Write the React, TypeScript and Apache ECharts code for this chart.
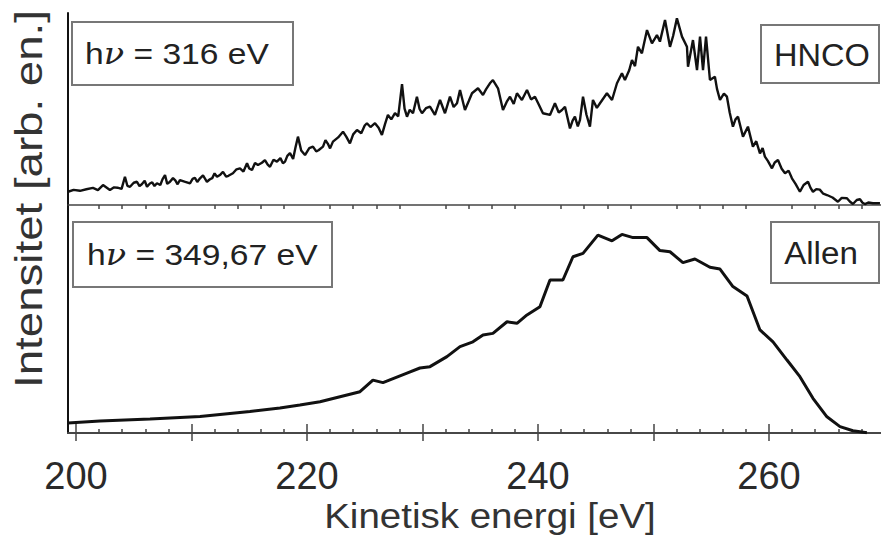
import React, { useEffect, useRef } from "react";
import * as echarts from "echarts";

// HNCO spectrum (hν = 316 eV): [kinetic energy eV, intensity arb. units]
const hncoSpectrum: [number, number][] = [
  [199.31, 6.9], [199.8, 7.9], [200.35, 7.4], [200.9, 8.2], [201.47, 8.9], [201.9, 7.8], [202.34, 10.4],
  [202.94, 7.8], [203.3, 9.2], [203.6, 9.0], [203.95, 8.4], [204.24, 14.7], [204.45, 10.0], [204.68, 9.5],
  [205.0, 11.6], [205.28, 12.1], [205.5, 9.8], [205.7, 10.8], [205.95, 12.6], [206.15, 9.5], [206.4, 11.2],
  [206.6, 11.8], [206.8, 9.9], [207.01, 11.3], [207.3, 10.4], [207.5, 13.5], [207.71, 15.6], [207.9, 11.0],
  [208.14, 12.1], [208.4, 14.0], [208.6, 12.8], [208.8, 10.8], [209.0, 13.0], [209.4, 12.2], [209.87, 11.3],
  [210.1, 13.6], [210.3, 14.2], [210.5, 12.0], [210.74, 13.9], [211.0, 15.4], [211.34, 12.1], [211.6, 13.4],
  [211.8, 14.0], [212.0, 16.5], [212.21, 14.7], [212.5, 15.8], [212.73, 17.3], [213.0, 14.8], [213.2, 15.2],
  [213.59, 16.5], [213.9, 18.6], [214.2, 19.1], [214.5, 17.4], [214.81, 21.7], [215.0, 19.0], [215.24, 18.2],
  [215.5, 21.9], [215.76, 20.8], [216.1, 22.0], [216.36, 23.4], [216.6, 21.0], [216.8, 19.9], [217.1, 23.6],
  [217.4, 22.6], [217.7, 24.4], [217.92, 21.7], [218.1, 22.6], [218.3, 25.6], [218.53, 27.1], [218.8, 24.0],
  [219.0, 29.8], [219.22, 35.6], [219.5, 28.4], [219.83, 26.0], [220.2, 29.6], [220.52, 30.4], [220.8, 27.9],
  [221.0, 28.5], [221.39, 30.4], [221.6, 33.8], [221.8, 32.0], [222.0, 29.5], [222.25, 33.0], [222.7, 35.2],
  [223.12, 38.2], [223.4, 35.6], [223.72, 32.1], [224.0, 36.8], [224.33, 39.1], [224.7, 37.4], [225.0, 41.4],
  [225.19, 42.6], [225.5, 40.6], [225.89, 42.6], [226.2, 40.2], [226.49, 36.5], [226.75, 42.0], [227.01, 46.9],
  [227.3, 44.6], [227.62, 47.8], [227.9, 46.2], [228.23, 63.0], [228.45, 50.2], [228.66, 46.0], [228.9, 49.6],
  [229.18, 47.8], [229.52, 56.4], [229.75, 50.0], [229.96, 47.8], [230.3, 50.4], [230.65, 51.2], [231.08, 46.9],
  [231.52, 54.7], [231.95, 47.8], [232.38, 56.4], [232.7, 51.0], [232.99, 53.0], [233.25, 59.9], [233.68, 49.5],
  [234.0, 54.0], [234.29, 58.2], [234.81, 60.8], [235.24, 57.3], [235.5, 60.2], [235.84, 63.4], [236.1, 65.1],
  [236.54, 60.8], [236.97, 49.5], [237.3, 53.8], [237.58, 56.4], [237.9, 52.6], [238.18, 58.2], [238.61, 54.7],
  [239.05, 59.9], [239.4, 55.0], [239.74, 56.4], [240.1, 52.0], [240.43, 47.8], [241.04, 46.9], [241.47, 53.0],
  [241.8, 48.2], [242.08, 49.5], [242.34, 51.2], [242.77, 39.9], [243.0, 44.0], [243.2, 46.0], [243.45, 41.0],
  [243.64, 44.3], [243.9, 56.4], [244.2, 47.0], [244.5, 40.8], [244.76, 54.7], [245.1, 50.6], [245.37, 53.0],
  [245.97, 58.2], [246.41, 54.7], [246.84, 63.4], [247.27, 68.6], [247.53, 65.1], [247.9, 70.2], [248.14, 75.5],
  [248.4, 72.3], [248.66, 82.4], [249.0, 79.0], [249.44, 91.1], [249.87, 84.2], [250.3, 88.5], [250.56, 85.1],
  [251.0, 96.4], [251.43, 82.4], [251.7, 88.0], [252.03, 97.2], [252.47, 87.7], [252.9, 82.4], [252.99, 72.0],
  [253.42, 85.9], [253.77, 70.3], [254.03, 87.7], [254.29, 70.3], [254.55, 87.7], [254.89, 65.1], [255.32, 66.8],
  [255.5, 60.5], [255.76, 54.7], [256.1, 58.0], [256.36, 56.4], [256.6, 48.2], [256.88, 40.8], [257.1, 44.6],
  [257.32, 46.0], [257.75, 35.6], [258.18, 40.8], [258.61, 30.4], [258.9, 33.2], [259.22, 26.9], [259.45, 29.6],
  [259.65, 25.2], [259.9, 23.0], [260.26, 19.1], [260.5, 22.1], [260.78, 23.4], [261.1, 18.9], [261.39, 16.5],
  [261.7, 17.9], [261.99, 13.9], [262.3, 11.0], [262.68, 6.9], [263.0, 10.4], [263.38, 12.1], [263.6, 8.9],
  [263.81, 6.9], [264.1, 8.3], [264.4, 8.0], [264.7, 5.9], [265.02, 5.2], [265.5, 3.9], [265.97, 1.7],
  [266.3, 3.7], [266.75, 3.5], [267.0, 1.8], [267.27, 0.5], [267.6, 2.6], [267.88, 3.0], [268.1, 1.2],
  [268.31, 0.5], [268.6, 1.3], [269.0, 0.9], [269.61, 0.9],
];

// Allen spectrum (hν = 349,67 eV): [kinetic energy eV, intensity arb. units]
const allenSpectrum: [number, number][] = [
  [199.31, 4.4], [202.08, 5.3], [206.41, 6.1], [210.74, 7.2], [215.06, 9.4], [217.66, 11.0], [219.39, 12.3],
  [221.13, 13.7], [222.86, 15.9], [224.59, 18.1], [225.71, 23.2], [226.58, 22.1], [228.66, 26.3], [229.78, 28.5],
  [230.65, 29.1], [232.12, 33.5], [233.25, 37.9], [234.37, 40.0], [235.24, 43.0], [236.1, 43.7], [237.32, 48.8],
  [238.18, 48.1], [239.05, 51.8], [240.17, 55.4], [241.04, 67.1], [242.16, 67.1], [243.03, 77.3], [243.9, 78.8],
  [245.19, 86.8], [246.41, 84.3], [247.27, 87.1], [248.23, 85.7], [249.44, 85.7], [250.56, 80.0], [251.43, 79.5],
  [252.55, 74.7], [253.59, 76.3], [254.89, 72.7], [255.76, 71.9], [256.88, 64.2], [258.1, 60.1], [259.22, 45.2],
  [260.35, 40.0], [261.56, 32.0], [262.68, 24.7], [263.81, 15.2], [265.02, 7.1], [266.15, 2.8], [267.27, 1.0],
  [268.48, 0.1],
];

const majorTicks = [200, 210, 220, 230, 240, 250, 260];
const minorTicks = [202, 204, 206, 208, 212, 214, 216, 218, 222, 224, 226, 228, 232, 234, 236, 238, 242, 244, 246, 248, 252, 254, 256, 258, 262, 264, 266, 268];
const tickLabels = [200, 220, 240, 260];

const X_MIN = 199.31;
const X_MAX = 269.7;
const FONT = "Liberation Sans, Arial, sans-serif";
const AXIS_GRAY = "#444";

export default function App() {
  const ref = useRef<HTMLDivElement>(null);
  useEffect(() => {
    if (!ref.current) return;
    const chart = echarts.init(ref.current, null, { renderer: "svg" });

    const tickAxis = (grid: number, pos: "top" | "bottom", values: number[], len: number, labels: boolean) => ({
      type: "value",
      gridIndex: grid,
      position: pos,
      min: X_MIN,
      max: X_MAX,
      axisLine: { show: true, lineStyle: { color: AXIS_GRAY, width: 1.5 } },
      axisTick: { show: true, inside: true, length: len, customValues: values, lineStyle: { color: AXIS_GRAY, width: 1.5 } },
      axisLabel: labels
        ? { show: true, customValues: tickLabels, fontSize: 38, color: "#2a2a2a", fontFamily: FONT, margin: 24 }
        : { show: false },
      splitLine: { show: false },
    });

    const richHnu = (size: number) => ({
      a: { fontSize: size, fontFamily: FONT, fill: "#222" },
      b: { fontSize: size, fontFamily: "DejaVu Serif, serif", fontStyle: "italic", fill: "#222" },
    });

    const option: any = {
      animation: false,
      backgroundColor: "#fff",
      grid: [
        { left: 68, right: 0, top: 13, height: 192 },
        { left: 68, right: 0, top: 205, height: 228 },
      ],
      xAxis: [
        { type: "value", gridIndex: 0, min: X_MIN, max: X_MAX, show: false },
        tickAxis(1, "top", majorTicks, 8, false),
        tickAxis(1, "top", minorTicks, 4, false),
        tickAxis(1, "bottom", majorTicks, 9, true),
        tickAxis(1, "bottom", minorTicks, 4, false),
      ],
      yAxis: [0, 1].map((g) => ({
        type: "value",
        gridIndex: g,
        min: 0,
        max: 100,
        axisLine: { show: true, onZero: false, lineStyle: { color: "#111", width: 2 } },
        axisTick: { show: false },
        axisLabel: { show: false },
        splitLine: { show: false },
      })),
      series: [
        {
          type: "line",
          xAxisIndex: 0,
          yAxisIndex: 0,
          data: hncoSpectrum,
          showSymbol: false,
          lineStyle: { color: "#111", width: 2.4 },
        },
        {
          type: "line",
          xAxisIndex: 3,
          yAxisIndex: 1,
          data: allenSpectrum,
          showSymbol: false,
          lineStyle: { color: "#111", width: 3 },
        },
      ],
      graphic: [
        {
          type: "text",
          x: 29,
          y: 199,
          rotation: Math.PI / 2,
          scaleX: 1.17,
          style: { text: "Intensitet [arb. en.]", font: `39px ${FONT}`, fill: "#333", align: "center", verticalAlign: "middle" },
        },
        {
          type: "text",
          x: 490,
          y: 516,
          scaleX: 1.1,
          style: { text: "Kinetisk energi [eV]", font: `35px ${FONT}`, fill: "#333", align: "center", verticalAlign: "middle" },
        },
        { type: "rect", shape: { x: 72, y: 22, width: 221, height: 63 }, style: { fill: "#fff", stroke: "#777", lineWidth: 2 } },
        {
          type: "text",
          x: 85,
          y: 54,
          scaleX: 1.12,
          style: { text: "{a|h}{b|ν}{a| = 316 eV}", verticalAlign: "middle", rich: richHnu(30) },
        },
        { type: "rect", shape: { x: 761, y: 25, width: 118, height: 58 }, style: { fill: "#fff", stroke: "#777", lineWidth: 2 } },
        {
          type: "text",
          x: 822,
          y: 55,
          scaleX: 1.05,
          style: { text: "HNCO", font: `31px ${FONT}`, fill: "#222", align: "center", verticalAlign: "middle" },
        },
        { type: "rect", shape: { x: 73, y: 222, width: 259, height: 65 }, style: { fill: "#fff", stroke: "#777", lineWidth: 2 } },
        {
          type: "text",
          x: 87,
          y: 255,
          scaleX: 1.12,
          style: { text: "{a|h}{b|ν}{a| = 349,67 eV}", verticalAlign: "middle", rich: richHnu(30) },
        },
        { type: "rect", shape: { x: 771, y: 222, width: 108, height: 61 }, style: { fill: "#fff", stroke: "#777", lineWidth: 2 } },
        {
          type: "text",
          x: 821,
          y: 253,
          scaleX: 1.07,
          style: { text: "Allen", font: `31px ${FONT}`, fill: "#222", align: "center", verticalAlign: "middle" },
        },
      ],
    };
    chart.setOption(option);
    return () => chart.dispose();
  }, []);
  return <div ref={ref} style={{ position: "fixed", left: 0, top: 0, width: 881, height: 539, background: "#fff" }} />;
}
